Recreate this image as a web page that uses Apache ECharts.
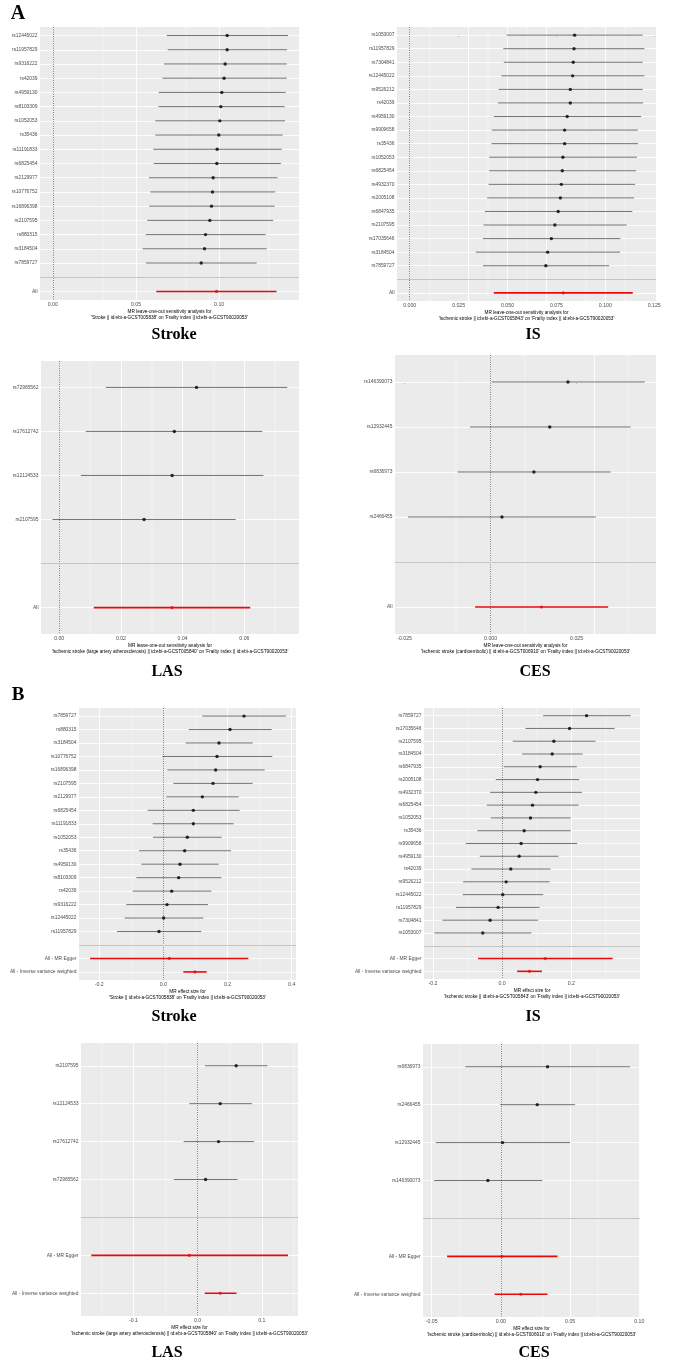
<!DOCTYPE html>
<html><head><meta charset="utf-8">
<script src="https://cdn.jsdelivr.net/npm/echarts@6/dist/echarts.min.js"></script>
<style>html,body{margin:0;padding:0;background:#fff}#c{width:685px;height:1367px}</style>
</head><body><div id="c"></div>
<script>
// ---------- Panel A: leave-one-out ----------
const aStrokeSnps = ['rs12445022','rs11957829','rs9316222','rs42039','rs4959130','rs8103309','rs1052053','rs35436','rs11191833','rs6825454','rs2129977','rs10776752','rs16896398','rs2107595','rs880315','rs3184504','rs7859727'];
const aStrokeB  = [0.1048,0.1048,0.1036,0.1030,0.1016,0.1010,0.1004,0.0998,0.0988,0.0986,0.0964,0.0960,0.0954,0.0944,0.0918,0.0912,0.0892];
const aStrokeLo = [0.0685,0.0691,0.0669,0.0659,0.0637,0.0635,0.0616,0.0616,0.0604,0.0606,0.0578,0.0586,0.0580,0.0568,0.0558,0.0540,0.0560];
const aStrokeHi = [0.1414,0.1408,0.1406,0.1406,0.1400,0.1394,0.1396,0.1382,0.1376,0.1371,0.1351,0.1337,0.1333,0.1325,0.1279,0.1285,0.1225];
const aStrokeSumLabels = ['All'];
const aStrokeSumB = [0.0984], aStrokeSumLo = [0.0622], aStrokeSumHi = [0.1345];
const aStrokeTicks = [0, 0.05, 0.10];
const aStrokeTickLabels = ['0.00','0.05','0.10'];

const aIsSnps = ['rs1053007','rs11957829','rs7304841','rs12445022','rs9526212','rs42039','rs4959130','rs9909658','rs35436','rs1052053','rs6825454','rs4932370','rs2005108','rs6847935','rs2107595','rs17035646','rs3184504','rs7859727'];
const aIsB  = [0.0843,0.0840,0.0836,0.0833,0.0821,0.0821,0.0805,0.0792,0.0792,0.0783,0.0780,0.0775,0.0770,0.0759,0.0742,0.0724,0.0705,0.0696];
const aIsLo = [0.0495,0.0478,0.0481,0.0469,0.0454,0.0451,0.0430,0.0420,0.0418,0.0406,0.0406,0.0403,0.0396,0.0384,0.0377,0.0374,0.0338,0.0375];
const aIsHi = [0.1191,0.1200,0.1191,0.1200,0.1191,0.1193,0.1183,0.1166,0.1167,0.1162,0.1157,0.1152,0.1147,0.1138,0.1109,0.1077,0.1075,0.1019];
const aIsSumLabels = ['All'];
const aIsSumB = [0.0785], aIsSumLo = [0.0430], aIsSumHi = [0.1140];
const aIsTicks = [0, 0.025, 0.05, 0.075, 0.10, 0.125];
const aIsTickLabels = ['0.000','0.025','0.050','0.075','0.100','0.125'];

const aLasSnps = ['rs72965562','rs17612742','rs12124533','rs2107595'];
const aLasB  = [0.0445,0.0373,0.0366,0.0275];
const aLasLo = [0.0151,0.0086,0.0070,-0.0022];
const aLasHi = [0.0739,0.0658,0.0662,0.0572];
const aLasSumLabels = ['All'];
const aLasSumB = [0.0365], aLasSumLo = [0.0112], aLasSumHi = [0.0619];
const aLasTicks = [0, 0.02, 0.04, 0.06];
const aLasTickLabels = ['0.00','0.02','0.04','0.06'];

const aCesSnps = ['rs146390073','rs12932445','rs6836973','rs2466455'];
const aCesB  = [0.0225,0.0172,0.0126,0.0033];
const aCesLo = [0.0003,-0.0060,-0.0096,-0.0240];
const aCesHi = [0.0448,0.0407,0.0349,0.0306];
const aCesSumLabels = ['All'];
const aCesSumB = [0.0148], aCesSumLo = [-0.0045], aCesSumHi = [0.0342];
const aCesTicks = [-0.025, 0, 0.025];
const aCesTickLabels = ['-0.025','0.000','0.025'];

// ---------- Panel B: single-SNP forest ----------
const bStrokeSnps = ['rs7859727','rs880315','rs3184504','rs10776752','rs16896398','rs2107595','rs2129977','rs6825454','rs11191833','rs1052053','rs35436','rs4959130','rs8103309','rs42039','rs9316222','rs12445022','rs11957829'];
const bStrokeB  = [0.2514,0.2078,0.1735,0.1673,0.1631,0.1548,0.1216,0.0935,0.0935,0.0748,0.0665,0.0519,0.0478,0.0260,0.0114,0.0010,-0.0135];
const bStrokeLo = [0.1216,0.0790,0.0696,-0.0031,0.0125,0.0312,0.0094,-0.0488,-0.0332,-0.0322,-0.0758,-0.0686,-0.0842,-0.0956,-0.1153,-0.1205,-0.1444];
const bStrokeHi = [0.3823,0.3377,0.2784,0.3397,0.3158,0.2784,0.2348,0.2379,0.2192,0.1818,0.2109,0.1725,0.1808,0.1496,0.1392,0.1247,0.1184];
const bStrokeSumLabels = ['All - MR Egger','All - Inverse variance weighted'];
const bStrokeSumB = [0.0187,0.0987], bStrokeSumLo = [-0.2286,0.0623], bStrokeSumHi = [0.2649,0.1351];
const bStrokeTicks = [-0.2, 0, 0.2, 0.4];
const bStrokeTickLabels = ['-0.2','0.0','0.2','0.4'];

const bIsSnps = ['rs7859727','rs17035646','rs2107595','rs3184504','rs6847935','rs2005108','rs4932370','rs6825454','rs1052053','rs35436','rs9909658','rs4959130','rs42039','rs9526212','rs12445022','rs11957829','rs7304841','rs1053007'];
const bIsB  = [0.2444,0.1952,0.1498,0.1449,0.1101,0.1024,0.0976,0.0879,0.0821,0.0638,0.0551,0.0493,0.0251,0.0116,0.0019,-0.0116,-0.0348,-0.0560];
const bIsLo = [0.1188,0.0676,0.0309,0.0580,0.0048,-0.0184,-0.0348,-0.0444,-0.0329,-0.0715,-0.1053,-0.0647,-0.0889,-0.1130,-0.1140,-0.1333,-0.1729,-0.1961];
const bIsHi = [0.3720,0.3256,0.2705,0.2329,0.2164,0.2232,0.2309,0.2213,0.1981,0.1981,0.2174,0.1633,0.1401,0.1372,0.1188,0.1082,0.1043,0.0841];
const bIsSumLabels = ['All - MR Egger','All - Inverse variance weighted'];
const bIsSumB = [0.1246,0.0792], bIsSumLo = [-0.0696,0.0435], bIsSumHi = [0.3198,0.1150];
const bIsTicks = [-0.2, 0, 0.2];
const bIsTickLabels = ['-0.2','0.0','0.2'];

const bLasSnps = ['rs2107595','rs12124533','rs17612742','rs72965562'];
const bLasB  = [0.0601,0.0352,0.0326,0.0124];
const bLasLo = [0.0114,-0.0130,-0.0218,-0.0373];
const bLasHi = [0.1088,0.0850,0.0881,0.0622];
const bLasSumLabels = ['All - MR Egger','All - Inverse variance weighted'];
const bLasSumB = [-0.0130,0.0352], bLasSumLo = [-0.1658,0.0109], bLasSumHi = [0.1409,0.0606];
const bLasTicks = [-0.1, 0, 0.1];
const bLasTickLabels = ['-0.1','0.0','0.1'];

const bCesSnps = ['rs6836973','rs2466455','rs12932445','rs146390073'];
const bCesB  = [0.0337,0.0262,0.0012,-0.0094];
const bCesLo = [-0.0257,-0.0005,-0.0471,-0.0483];
const bCesHi = [0.0933,0.0536,0.0500,0.0300];
const bCesSumLabels = ['All - MR Egger','All - Inverse variance weighted'];
const bCesSumB = [0.0007,0.0144], bCesSumLo = [-0.0389,-0.0046], bCesSumHi = [0.0409,0.0337];
const bCesTicks = [-0.05, 0, 0.05, 0.10];
const bCesTickLabels = ['-0.05','0.00','0.05','0.10'];

const looHead = 'MR leave-one-out sensitivity analysis for';
const effHead = 'MR effect size for';
const expStroke = "'Stroke || id:ebi-a-GCST005838' on 'Frailty index || id:ebi-a-GCST90020053'";
const expIs = "'Ischemic stroke || id:ebi-a-GCST005843' on 'Frailty index || id:ebi-a-GCST90020053'";
const expLas = "'Ischemic stroke (large artery atherosclerosis) || id:ebi-a-GCST005840' on 'Frailty index || id:ebi-a-GCST90020053'";
const expCes = "'Ischemic stroke (cardioembolic) || id:ebi-a-GCST006910' on 'Frailty index || id:ebi-a-GCST90020053'";

const panels = [
  {snps:aStrokeSnps,b:aStrokeB,lo:aStrokeLo,hi:aStrokeHi,sl:aStrokeSumLabels,sb:aStrokeSumB,slo:aStrokeSumLo,shi:aStrokeSumHi,ticks:aStrokeTicks,tl:aStrokeTickLabels,xr:[-0.0077,0.148],box:[40,27,259,273],name:looHead+'\n'+expStroke},
  {snps:aIsSnps,b:aIsB,lo:aIsLo,hi:aIsHi,sl:aIsSumLabels,sb:aIsSumB,slo:aIsSumLo,shi:aIsSumHi,ticks:aIsTicks,tl:aIsTickLabels,xr:[-0.0065,0.1259],box:[397,27,259,274],name:looHead+'\n'+expIs},
  {snps:aLasSnps,b:aLasB,lo:aLasLo,hi:aLasHi,sl:aLasSumLabels,sb:aLasSumB,slo:aLasSumLo,shi:aLasSumHi,ticks:aLasTicks,tl:aLasTickLabels,xr:[-0.0059,0.0777],box:[41,361,258,273],name:looHead+'\n'+expLas},
  {snps:aCesSnps,b:aCesB,lo:aCesLo,hi:aCesHi,sl:aCesSumLabels,sb:aCesSumB,slo:aCesSumLo,shi:aCesSumHi,ticks:aCesTicks,tl:aCesTickLabels,xr:[-0.0278,0.0481],box:[395,355,261,279],name:looHead+'\n'+expCes},
  {snps:bStrokeSnps,b:bStrokeB,lo:bStrokeLo,hi:bStrokeHi,sl:bStrokeSumLabels,sb:bStrokeSumB,slo:bStrokeSumLo,shi:bStrokeSumHi,ticks:bStrokeTicks,tl:bStrokeTickLabels,xr:[-0.2629,0.4135],box:[79,708,217,272],name:effHead+'\n'+expStroke},
  {snps:bIsSnps,b:bIsB,lo:bIsLo,hi:bIsHi,sl:bIsSumLabels,sb:bIsSumB,slo:bIsSumLo,shi:bIsSumHi,ticks:bIsTicks,tl:bIsTickLabels,xr:[-0.2261,0.3990],box:[424,708,216,271],name:effHead+'\n'+expIs},
  {snps:bLasSnps,b:bLasB,lo:bLasLo,hi:bLasHi,sl:bLasSumLabels,sb:bLasSumB,slo:bLasSumLo,shi:bLasSumHi,ticks:bLasTicks,tl:bLasTickLabels,xr:[-0.1819,0.1565],box:[81,1043,217,273],name:effHead+'\n'+expLas},
  {snps:bCesSnps,b:bCesB,lo:bCesLo,hi:bCesHi,sl:bCesSumLabels,sb:bCesSumB,slo:bCesSumLo,shi:bCesSumHi,ticks:bCesTicks,tl:bCesTickLabels,xr:[-0.0563,0.1005],box:[423,1044,217,273],name:effHead+'\n'+expCes}
];

const titles = [
  {t:'A', x:18, y:14, s:20}, {t:'B', x:18, y:695, s:19},
  {t:'Stroke', x:174, y:335, s:16}, {t:'IS', x:533, y:335, s:16},
  {t:'LAS', x:167, y:672, s:16}, {t:'CES', x:535, y:672, s:16},
  {t:'Stroke', x:174, y:1017, s:16}, {t:'IS', x:533, y:1017, s:16},
  {t:'LAS', x:167, y:1353, s:16}, {t:'CES', x:534, y:1353, s:16}
];

const FONT = 'Liberation Sans, Arial, Helvetica, sans-serif';
const SERIF = 'Liberation Serif, Times New Roman, serif';
const RED = '#e8090b';

const grids = [], xAxes = [], yAxes = [], series = [];
panels.forEach((p, i) => {
  const rows = p.snps.concat([''], p.sl);
  const n = rows.length;
  const sepIdx = p.snps.length;
  const idx = rows.map((_, k) => k);
  const step = p.ticks[1] - p.ticks[0];
  const minors = [];
  for (let k = -20; k <= 20; k++) {
    const v = p.ticks[0] + (k + 0.5) * step;
    if (v > p.xr[0] && v < p.xr[1]) minors.push(v);
  }
  grids.push({left:p.box[0], top:p.box[1], width:p.box[2], height:p.box[3], show:true,
    backgroundColor:'#EBEBEB', borderWidth:0, containLabel:false, outerBoundsMode:'none'});
  xAxes.push({gridIndex:i, type:'value', min:p.xr[0], max:p.xr[1],
    axisLine:{show:false},
    axisTick:{show:true, length:1.5, lineStyle:{color:'#333', width:0.5}, customValues:p.ticks},
    axisLabel:{customValues:p.ticks, fontSize:5.2, color:'#4D4D4D', margin:2, fontFamily:FONT,
      formatter:(v) => { const j = p.ticks.findIndex(t => Math.abs(t - v) < 1e-9); return j >= 0 ? p.tl[j] : ''; }},
    splitLine:{show:false},
    name:p.name, nameLocation:'middle', nameGap:9,
    nameTextStyle:{fontSize:4.7, lineHeight:5.5, color:'#000', fontFamily:FONT}
  });
  yAxes.push({gridIndex:i, type:'value', inverse:true, min:-0.6, max:n - 0.4,
    axisLine:{show:false},
    axisTick:{show:true, length:1.5, lineStyle:{color:'#333', width:0.5}, customValues:idx},
    axisLabel:{customValues:idx, fontSize:4.9, color:'#4D4D4D', margin:2.5, fontFamily:FONT,
      formatter:(v) => rows[Math.round(v)] || ''},
    splitLine:{show:false}
  });
  // background grid lines
  const gl = [];
  p.ticks.forEach(v => gl.push({xAxis:v, lineStyle:{color:'#fff', width:0.9, type:'solid'}}));
  minors.forEach(v => gl.push({xAxis:v, lineStyle:{color:'#fff', width:0.45, type:'solid'}}));
  idx.forEach(k => gl.push({yAxis:k, lineStyle:{color:'#fff', width:0.9, type:'solid'}}));
  series.push({type:'line', xAxisIndex:i, yAxisIndex:i, data:[], silent:true, animation:false,
    markLine:{z:1, silent:true, animation:false, symbol:['none','none'], label:{show:false}, data:gl}});
  // error bars
  const eb = [];
  p.snps.forEach((s, k) => eb.push([p.lo[k], k, p.hi[k], 0]));
  p.sl.forEach((s, k) => eb.push([p.slo[k], sepIdx + 1 + k, p.shi[k], 1]));
  series.push({type:'custom', xAxisIndex:i, yAxisIndex:i, z:3, silent:true, animation:false, data:eb,
    renderItem:(params, api) => {
      const a = api.coord([api.value(0), api.value(1)]);
      const b = api.coord([api.value(2), api.value(1)]);
      const sum = api.value(3) === 1;
      return {type:'line', shape:{x1:a[0], y1:a[1], x2:b[0], y2:b[1]},
        style:{stroke: sum ? RED : '#2a2a2a', lineWidth: sum ? 1.6 : 0.65}};
    },
    markLine:{z:2, silent:true, animation:false, symbol:['none','none'], label:{show:false},
      data:[{xAxis:0, lineStyle:{color:'#333', width:0.7, type:[1,1.3]}}]}
  });
  // points
  const pts = [];
  p.snps.forEach((s, k) => pts.push({value:[p.b[k], k], itemStyle:{color:'#000'}, symbolSize:3.4}));
  p.sl.forEach((s, k) => pts.push({value:[p.sb[k], sepIdx + 1 + k], itemStyle:{color:RED}, symbolSize:3.2}));
  series.push({type:'scatter', xAxisIndex:i, yAxisIndex:i, z:4, silent:true, animation:false, data:pts,
    markLine:{z:5, silent:true, animation:false, symbol:['none','none'], label:{show:false},
      data:[{yAxis:sepIdx, lineStyle:{color:'#C4C4C4', width:1.2, type:'solid'}}]}
  });
});

const graphic = titles.map(t => ({type:'text', x:t.x, y:t.y, silent:true,
  style:{text:t.t, align:'center', verticalAlign:'middle', fill:'#000',
    font:'bold ' + t.s + 'px ' + SERIF}}));

const chart = echarts.init(document.getElementById('c'), null, {renderer:'canvas'});
chart.setOption({animation:false, backgroundColor:'#fff', grid:grids, xAxis:xAxes, yAxis:yAxes, series:series, graphic:graphic});
</script>
</body></html>
